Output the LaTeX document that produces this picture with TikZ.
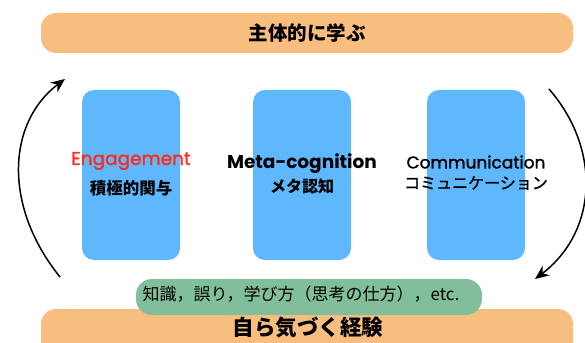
\documentclass[tikz,border=0pt]{standalone}
\usepackage{fontspec}
\usetikzlibrary{arrows.meta}
\newfontfamily\jp{Noto Sans CJK JP}
\newfontfamily\jpm{Noto Sans CJK JP}[FakeBold=1.2]
\newfontfamily\pop{Poppins}
\newfontfamily\popm{Poppins}[FakeBold=1.5]
\definecolor{barorange}{HTML}{F7BE80}
\definecolor{boxblue}{HTML}{5FB8FE}
\definecolor{boxgreen}{HTML}{80BF99}
\definecolor{engred}{HTML}{FF2A1A}
\tikzset{
  bar/.style={fill=barorange, draw=none, rounded corners=15pt},
  pillar/.style={fill=boxblue, draw=none, rounded corners=12pt},
  note/.style={fill=boxgreen, draw=none, rounded corners=16pt},
  cycle/.style={line width=1.5pt, -{Stealth[length=14pt,width=12pt]}},
  entitle/.style={inner sep=0pt},
  jptitle/.style={font=\jp\bfseries\fontsize{16.5}{16.5}\selectfont, inner sep=0pt},
}
\begin{document}
\begin{tikzpicture}[x=1pt,y=-1pt]
\useasboundingbox (0,0) rectangle (585,342);
% bars
\path[bar] (41,13) rectangle (573,53);
\node[font=\jp\bfseries\fontsize{19.5}{19.5}\selectfont] (top) at (307,33) {主体的に学ぶ};
\path[bar] (41,309) rectangle (573,360);
\node[font=\jp\bfseries\fontsize{21.5}{21.5}\selectfont] (bottom) at (308,327) {自ら気づく経験};
% pillars
\path[pillar] (82,90) rectangle (180,260);
\path[pillar] (253,90) rectangle (351,260);
\path[pillar] (427,90) rectangle (525,260);
\node[entitle, text=engred, font=\popm\fontsize{18.5}{18.5}\selectfont] (eng) at (131,161) {Engagement};
\node[jptitle] (engj) at (131,188) {積極的関与};
\node[entitle, font=\pop\bfseries\fontsize{18.5}{18.5}\selectfont] (meta) at (302,164) {Meta-cognition};
\node[jptitle, font=\jp\bfseries\fontsize{16}{16}\selectfont] (metaj) at (302,186) {メタ認知};
\node[entitle, font=\popm\fontsize{17}{17}\selectfont] (comm) at (476,162) {Communication};
\node[jptitle, font=\jpm\fontsize{16}{16}\selectfont] (commj) at (476,183) {コミュニケーション};
% note
\path[note] (136,279) rectangle (482,315);
\node[font=\jp\fontsize{17}{17}\selectfont, inner sep=0pt] (knw) at (301,294) {知識，誤り，学び方（思考の仕方），etc.};
% cycle arrows
\coordinate (ls) at (60,277);
\coordinate (le) at (65,79);
\coordinate (rs) at (549,89);
\coordinate (re) at (535,279);
\draw[cycle] (ls) .. controls (2,205) and (8,122) .. (le);
\draw[cycle] (rs) .. controls (602,150) and (597,232) .. (re);
\end{tikzpicture}
\end{document}
